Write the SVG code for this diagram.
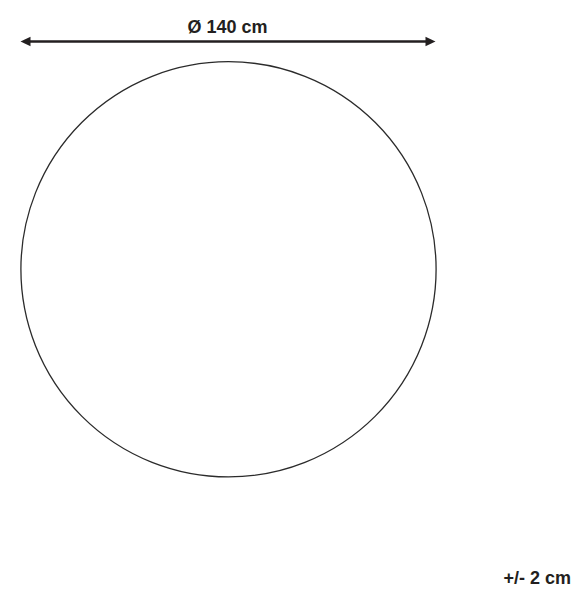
<svg xmlns="http://www.w3.org/2000/svg" width="584" height="600" viewBox="0 0 584 600">
<style>
.lbl{font-family:"Liberation Sans",Arial,sans-serif;font-weight:bold;font-size:18px;fill:#231f20}
.dim{stroke:#231f20;stroke-width:2.6;fill:none}
.head{fill:#231f20}
</style>
<rect width="584" height="600" fill="#ffffff"/>
<g id="rug">
<circle cx="228.5" cy="269.3" r="207.6" fill="none" stroke="#2b2b2b" stroke-width="1.3"/>
</g>
<g id="connectors">
<line class="dim" x1="27" y1="41.5" x2="429" y2="41.5"/>
<polygon class="head" points="20.5,41.5 30.5,36.8 30.5,46.2"/>
<polygon class="head" points="435.5,41.5 425.5,36.8 425.5,46.2"/>
</g>
<g id="diameter-label">
<text class="lbl" x="227.5" y="33" text-anchor="middle">Ø 140 cm</text>
</g>
<g id="tolerance-label">
<text class="lbl" x="571" y="584" text-anchor="end">+/- 2 cm</text>
</g>
</svg>
